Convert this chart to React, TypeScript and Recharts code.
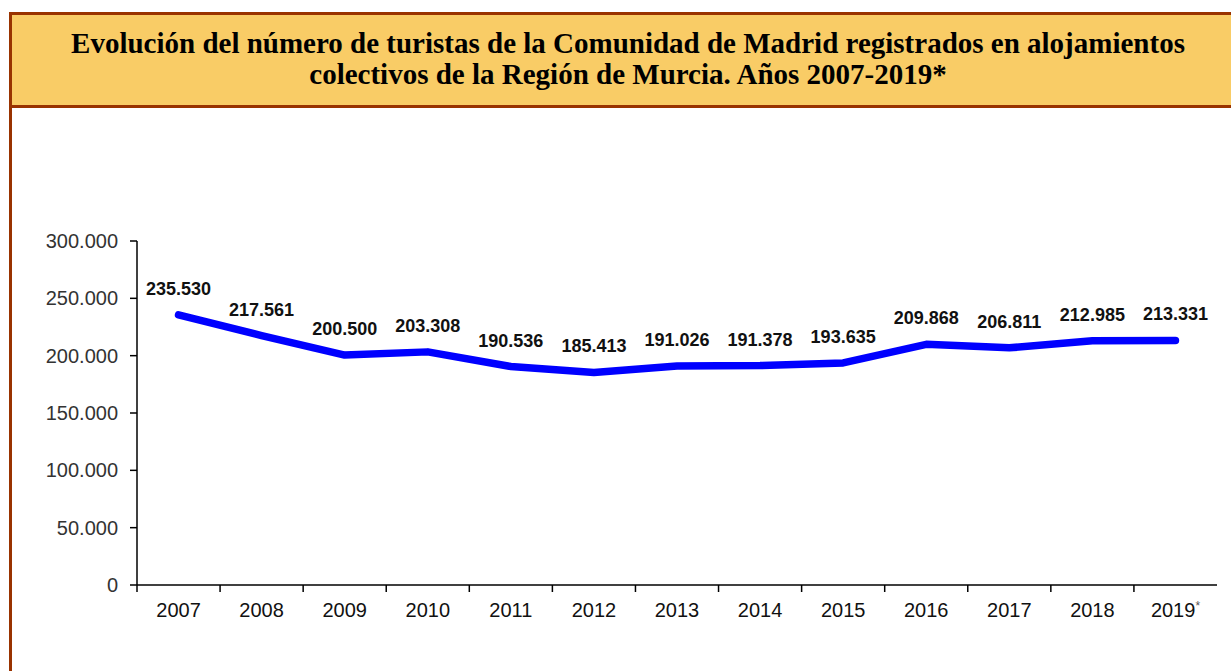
import React from "react";
import { LineChart, Line, XAxis, YAxis, LabelList } from "recharts";

const years = ["2007", "2008", "2009", "2010", "2011", "2012", "2013", "2014", "2015", "2016", "2017", "2018", "2019*"];
const tourists = [235530, 217561, 200500, 203308, 190536, 185413, 191026, 191378, 193635, 209868, 206811, 212985, 213331];
const yTicks = [0, 50000, 100000, 150000, 200000, 250000, 300000];

const data = years.map((y, i) => ({ year: y, value: tourists[i] }));

const fmt = (v: number) => String(v).replace(/\B(?=(\d{3})+(?!\d))/g, ".");

const CHART_W = 1231;
const CHART_H = 563;
const MARGIN = { top: 133, right: 14, bottom: 46, left: 37 };
const Y_W = 100;
const PLOT_W = CHART_W - MARGIN.left - MARGIN.right - Y_W;
const BAND = PLOT_W / years.length;

const XTick = (props: any) => {
  const { x, y, payload } = props;
  const label: string = payload.value;
  const star = label.endsWith("*");
  const main = star ? label.slice(0, -1) : label;
  const bx = x - BAND / 2;
  return (
    <g>
      <line x1={bx} x2={bx} y1={y} y2={y + 7} stroke="#000" strokeWidth={1.5} />
      <text x={x} y={y + 32} textAnchor="middle" fontFamily="'Liberation Sans', Arial, sans-serif" fontSize={20} fill="#111">
        <tspan>{main}</tspan>
        {star ? <tspan fontSize={12} dy={-7} fill="#555">*</tspan> : null}
      </text>
    </g>
  );
};

export default function App() {
  return (
    <div style={{ position: "absolute", left: 0, top: 0, width: 1231, height: 671, overflow: "hidden", background: "#fff" }}>
      <div
        style={{
          position: "absolute",
          left: 9,
          top: 12,
          width: 1240,
          height: 96,
          boxSizing: "border-box",
          border: "3px solid #993300",
          background: "#F9CC66",
        }}
      />
      <div
        style={{
          position: "absolute",
          left: 0,
          top: 28,
          width: 1256,
          textAlign: "center",
          fontFamily: "'Liberation Serif', 'Times New Roman', serif",
          fontWeight: "bold",
          fontSize: 29,
          lineHeight: "31px",
          color: "#000",
        }}
      >
        <div>Evolución del número de turistas de la Comunidad de Madrid registrados en alojamientos</div>
        <div>colectivos de la Región de Murcia. Años 2007-2019*</div>
      </div>
      <div style={{ position: "absolute", left: 9, top: 108, width: 3, height: 563, background: "#993300" }} />
      <div style={{ position: "absolute", left: 0, top: 108 }}>
        <LineChart width={CHART_W} height={CHART_H} data={data} margin={MARGIN}>
          <XAxis
            dataKey="year"
            tick={<XTick />}
            tickLine={false}
            tickSize={0}
            tickMargin={0}
            axisLine={{ stroke: "#000", strokeWidth: 1.5 }}
            interval={0}
            height={40}
            padding={{ left: BAND / 2, right: BAND / 2 }}
          />
          <YAxis
            domain={[0, 300000]}
            ticks={yTicks}
            tickFormatter={fmt}
            width={Y_W}
            tickSize={7}
            tickMargin={12}
            interval={0}
            axisLine={{ stroke: "#000", strokeWidth: 1.5 }}
            tickLine={{ stroke: "#000", strokeWidth: 1.5 }}
            tick={{ fontFamily: "'Liberation Sans', Arial, sans-serif", fontSize: 20, fill: "#333" }}
          />
          <Line
            type="linear"
            dataKey="value"
            stroke="#0000FF"
            strokeWidth={7.5}
            strokeLinecap="round"
            strokeLinejoin="round"
            dot={false}
            activeDot={false}
            isAnimationActive={false}
          >
            <LabelList
              dataKey="value"
              position="top"
              offset={20}
              formatter={(v: any) => fmt(Number(v))}
              style={{ fontFamily: "'Liberation Sans', Arial, sans-serif", fontSize: 18, fontWeight: "bold", fill: "#111" }}
            />
          </Line>
        </LineChart>
      </div>
    </div>
  );
}
